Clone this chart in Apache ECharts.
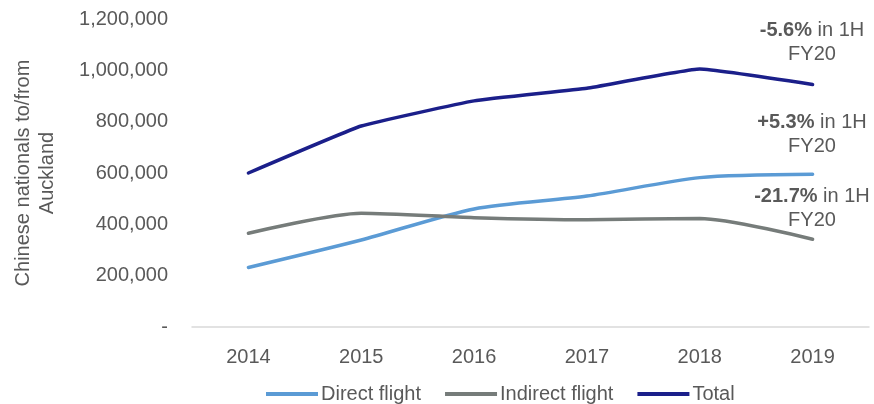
<!DOCTYPE html>
<html><head><meta charset="utf-8">
<script src="https://cdn.jsdelivr.net/npm/echarts@6/dist/echarts.min.js"></script>
<style>html,body{margin:0;padding:0;background:#fff}#c{width:874px;height:404px}</style>
</head><body><div id="c"></div>
<script>
const years = ['2014','2015','2016','2017','2018','2019'];
const direct = [232000, 339000, 460000, 510000, 582000, 595000];
const indirect = [365000, 443000, 426000, 418000, 423000, 342000];
const total = [600000, 783000, 881000, 930000, 1005000, 945000];
const seriesNames = ['Direct flight', 'Indirect flight', 'Total'];
const notes = [['-5.6%', ' in 1H', 'FY20'], ['+5.3%', ' in 1H', 'FY20'], ['-21.7%', ' in 1H', 'FY20']];

const FONT = 'Liberation Sans, Arial, sans-serif';
const TXT = '#595959';
const colors = ['#5B9BD5', '#767C7A', '#1B1F8A'];
const smooths = [0.25, 0.25, 0.1];
const chart = echarts.init(document.getElementById('c'));
const mk = (name, data, i) => ({
  name, type: 'line', data, smooth: smooths[i], symbol: 'none',
  lineStyle: { width: 3.5, color: colors[i], cap: 'round' }, itemStyle: { color: colors[i] }
});
chart.setOption({
  animation: false,
  textStyle: { fontFamily: FONT },
  grid: { left: 192, right: 5, top: 19, bottom: 77, containLabel: false, outerBoundsMode: 'none' },
  xAxis: {
    type: 'category', data: years, boundaryGap: true,
    axisLine: { lineStyle: { color: '#D9D9D9', width: 1.5 } },
    axisTick: { show: false },
    axisLabel: { color: TXT, fontSize: 20, margin: 20, fontFamily: FONT }
  },
  yAxis: {
    type: 'value', min: 0, max: 1200000, interval: 200000,
    splitLine: { show: false }, axisLine: { show: false }, axisTick: { show: false },
    axisLabel: { color: TXT, fontSize: 20, margin: 24, fontFamily: FONT,
      formatter: v => v === 0 ? '-' : v.toLocaleString('en-US') },
    name: 'Chinese nationals to/from\nAuckland', nameLocation: 'middle', nameGap: 133,
    nameTextStyle: { color: TXT, fontSize: 20, lineHeight: 24, fontFamily: FONT }
  },
  legend: {
    data: seriesNames, left: 261, top: 379, itemWidth: 52, itemHeight: 4, itemGap: 24,
    icon: 'rect',
    textStyle: { color: TXT, fontSize: 20, fontFamily: FONT, padding: [0, 0, 0, -2] }
  },
  series: [mk(seriesNames[0], direct, 0), mk(seriesNames[1], indirect, 1), mk(seriesNames[2], total, 2)],
  graphic: [[18, 0], [110, 1], [184, 2]].map(([y, k]) => ({
    type: 'text', x: 812, y: y,
    style: {
      text: '{b|' + notes[k][0] + '}' + notes[k][1] + '\n' + notes[k][2],
      align: 'center', fill: TXT, font: '20px ' + FONT, lineHeight: 24,
      rich: { b: { fontWeight: 'bold', fontSize: 20, fontFamily: FONT, fill: TXT, lineHeight: 24 } }
    }
  }))
});
</script></body></html>
